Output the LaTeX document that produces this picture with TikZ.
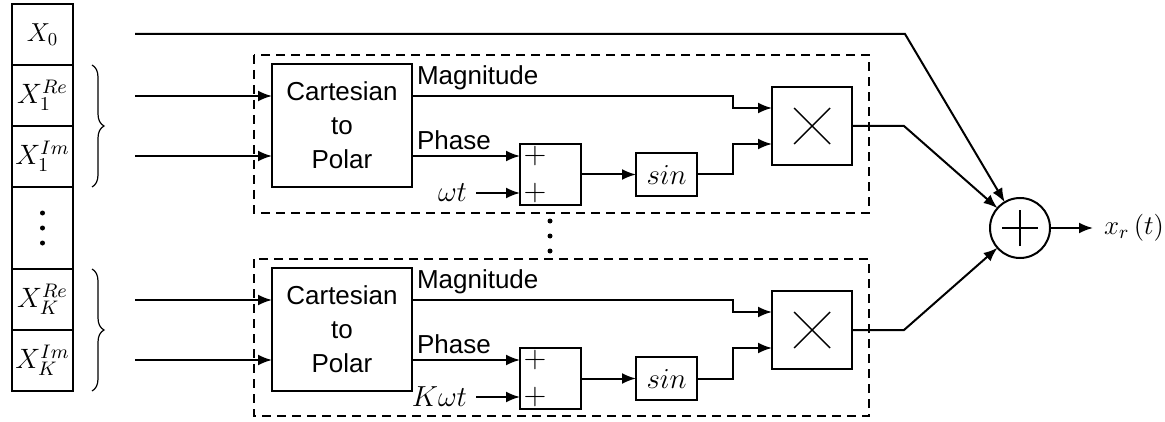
\RequirePackage{fix-cm}
\documentclass[tikz,border=0pt]{standalone}
\usepackage{fontspec}
\setsansfont{Liberation Sans}
\usetikzlibrary{positioning, arrows.meta, decorations.pathreplacing}

\begin{document}
\begin{tikzpicture}[x=0.5pt, y=-0.5pt,
  line width=1pt,
  cell/.style={draw, minimum width=30.5pt, minimum height=30.5pt, inner sep=0pt, outer sep=0pt, font=\fontsize{14}{16}\selectfont},
  blk/.style={draw, inner sep=0pt, outer sep=0pt},
  lbl/.style={font=\sffamily\fontsize{13}{17}\selectfont, inner xsep=2pt, inner ysep=2.5pt},
  sym/.style={font=\fontsize{14.5}{16}\selectfont, inner sep=1pt},
  pl/.style={font=\fontsize{15}{16}\selectfont, inner sep=0pt},
  mul/.style={blk, minimum width=40pt, minimum height=39pt,
    path picture={\draw[line width=0.7pt] ([shift={(-9pt,-9pt)}]path picture bounding box.center) -- ++(18pt,18pt)
      ([shift={(-9pt,9pt)}]path picture bounding box.center) -- ++(18pt,-18pt);}},
  sumc/.style={circle, draw, minimum size=30pt, inner sep=0pt, outer sep=0pt,
    path picture={\draw[line width=0.7pt] ([xshift=-9pt]path picture bounding box.center) -- ++(18pt,0)
      ([yshift=-9pt]path picture bounding box.center) -- ++(0,18pt);}},
  grp/.style={draw, dash pattern=on 4.5pt off 3pt, line width=0.9pt},
  brc/.style={decorate, decoration={brace, amplitude=6pt}, line width=0.6pt},
  >={Latex[length=7pt,width=5.5pt]}]
\useasboundingbox (0,0) rectangle (1165,422);
% input column
\node[cell, font=\fontsize{13}{15}\selectfont] (x0) at (42.5,34.5) {$X_0$};
\node[cell] (x1re) at (42.5,95.5) {$X_1^{Re}$};
\node[cell] (x1im) at (42.5,156.5) {$X_1^{Im}$};
\node[cell, minimum height=41pt] (dots) at (42.5,228) {};
\node[cell] (xkre) at (42.5,299.5) {$X_K^{Re}$};
\node[cell] (xkim) at (42.5,360.5) {$X_K^{Im}$};
\foreach \dy in {213,228,243} \fill (42.5,\dy) circle (1.25pt);
\draw[brc] ([xshift=9.5pt]x1re.north east) -- ([xshift=9.5pt]x1im.south east);
\draw[brc] ([xshift=9.5pt]xkre.north east) -- ([xshift=9.5pt]xkim.south east);
\coordinate (in0) at (135,34);
\coordinate (in1) at (135,96);
\coordinate (in2) at (135,156);
\coordinate (in3) at (135,300);
\coordinate (in4) at (135,360);
\coordinate (bend0) at (905,34);
% branch 1
\draw[grp] (254,55) rectangle (869,213);
\node[lbl, blk, minimum width=70pt, minimum height=61.5pt, align=center] (cp1) at (342,125.5) {Cartesian\\to\\Polar};
\node[blk, minimum size=30.5pt] (ad1) at (550.5,174.5) {};
\node[pl] at ([xshift=7.5pt,yshift=-6pt]ad1.north west) {$+$};
\node[pl] at ([xshift=7.5pt,yshift=6pt]ad1.south west) {$+$};
\node[blk, sym, minimum width=30.5pt, minimum height=21.5pt] (s1) at (666.5,174.5) {$sin$};
\node[mul] (m1) at (812,126) {};
\node[sym, anchor=east] (w1) at (470,193) {$\omega t$};
\draw[->] (in1) -- (in1 -| cp1.west);
\draw[->] (in2) -- (in2 -| cp1.west);
\draw[->] (cp1.east |- in1) node[lbl, anchor=south west] {Magnitude}
  -| ([xshift=-19.5pt,yshift=9pt]m1.west) -- ([yshift=9pt]m1.west);
\draw[->] (cp1.east |- in2) node[lbl, anchor=south west] {Phase} -- (in2 -| ad1.west);
\draw[->] ([xshift=3pt]w1.east) -- (w1 -| ad1.west);
\draw[->] (ad1) -- (s1);
\draw[->] (s1.east) -| ([xshift=-19.5pt,yshift=-9pt]m1.west) -- ([yshift=-9pt]m1.west);
\foreach \dy in {221,236,251} \fill (550,\dy) circle (1.25pt);
% branch K
\draw[grp] (254,259) rectangle (869,416);
\node[lbl, blk, minimum width=70pt, minimum height=61.5pt, align=center] (cp2) at (342,329.5) {Cartesian\\to\\Polar};
\node[blk, minimum size=30.5pt] (ad2) at (550.5,378.5) {};
\node[pl] at ([xshift=7.5pt,yshift=-6pt]ad2.north west) {$+$};
\node[pl] at ([xshift=7.5pt,yshift=6pt]ad2.south west) {$+$};
\node[blk, sym, minimum width=30.5pt, minimum height=21.5pt] (s2) at (666.5,378.5) {$sin$};
\node[mul] (m2) at (812,330) {};
\node[sym, anchor=east] (w2) at (470,397) {$K\omega t$};
\draw[->] (in3) -- (in3 -| cp2.west);
\draw[->] (in4) -- (in4 -| cp2.west);
\draw[->] (cp2.east |- in3) node[lbl, anchor=south west] {Magnitude}
  -| ([xshift=-19.5pt,yshift=9pt]m2.west) -- ([yshift=9pt]m2.west);
\draw[->] (cp2.east |- in4) node[lbl, anchor=south west] {Phase} -- (in4 -| ad2.west);
\draw[->] ([xshift=3pt]w2.east) -- (w2 -| ad2.west);
\draw[->] (ad2) -- (s2);
\draw[->] (s2.east) -| ([xshift=-19.5pt,yshift=-9pt]m2.west) -- ([yshift=-9pt]m2.west);
% summation
\node[sumc] (sum) at (1020,228) {};
\node[sym, anchor=west, inner sep=5pt, font=\fontsize{13.5}{15}\selectfont] (out) at (1093,228) {$x_r\left(t\right)$};
\draw[->] (in0) -- (bend0) -- (sum);
\draw[->] (m1.east) -- ++(26pt,0) -- (sum);
\draw[->] (m2.east) -- ++(26pt,0) -- (sum);
\draw[->] (sum) -- (out);
\end{tikzpicture}
\end{document}
